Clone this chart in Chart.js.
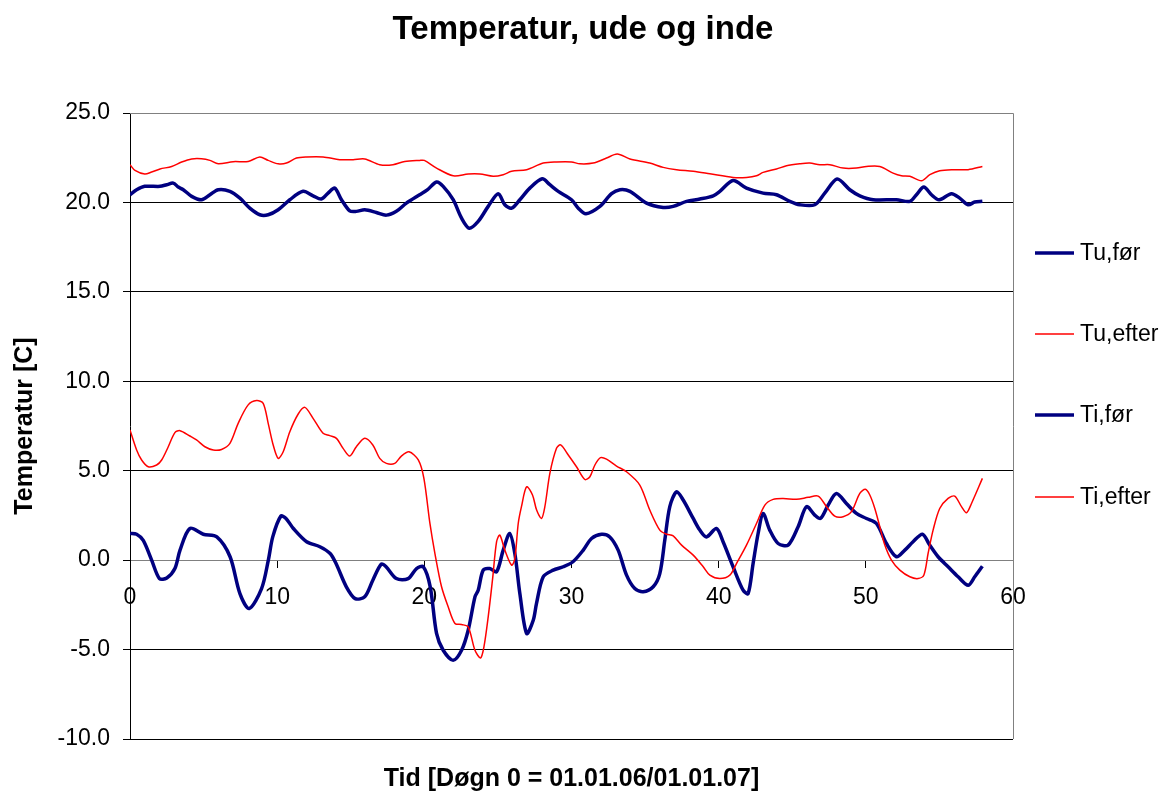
<!DOCTYPE html>
<html>
<head>
<meta charset="utf-8">
<title>Temperatur, ude og inde</title>
<script src="https://cdn.jsdelivr.net/npm/chart.js@4/dist/chart.umd.min.js"></script>
<style>
    html, body { margin: 0; padding: 0; background: #ffffff; }
    #chart { display: block; }
</style>
</head>
<body>
<canvas id="chart" width="1166" height="796"></canvas>
<script>
    "use strict";

    // Series (x = døgn, y = grader C)
    var tuForDays = [0, 0.45, 1.0, 2.04, 2.49, 2.94, 3.28, 3.62, 4.19, 4.86, 5.43, 6.0, 6.79, 7.47, 8.14, 8.82, 9.39, 10.07, 10.86, 11.76, 12.44, 13.0, 13.46, 13.91, 14.37, 14.93, 15.38, 15.95, 16.74, 17.42, 18.1, 18.78, 19.68, 20.2, 20.83, 21.28, 21.96, 22.53, 23.05, 23.66, 24.34, 25.02, 25.47, 25.93, 26.49, 27.17, 28.01, 28.53, 29.1, 30.0, 30.46, 30.98, 31.93, 32.72, 33.29, 33.97, 35.1, 36.23, 36.91, 37.82, 38.72, 39.63, 40.08, 40.98, 41.89, 43.02, 43.93, 44.83, 45.51, 46.53, 47.21, 48.05, 48.91, 49.59, 50.5, 52.08, 52.99, 53.44, 53.94, 54.46, 54.98, 55.82, 56.38, 56.95, 57.4, 57.92];
    var tuForTemps = [20.43, 20.71, 20.9, 20.9, 20.99, 21.08, 20.86, 20.71, 20.34, 20.15, 20.43, 20.71, 20.62, 20.24, 19.68, 19.31, 19.31, 19.59, 20.15, 20.62, 20.37, 20.19, 20.52, 20.8, 20.15, 19.53, 19.5, 19.59, 19.44, 19.29, 19.5, 19.96, 20.43, 20.7, 21.14, 20.9, 20.15, 19.12, 18.56, 18.94, 19.78, 20.49, 19.87, 19.68, 20.15, 20.8, 21.32, 20.99, 20.62, 20.15, 19.68, 19.37, 19.78, 20.49, 20.71, 20.62, 19.96, 19.72, 19.78, 20.06, 20.19, 20.37, 20.62, 21.23, 20.8, 20.52, 20.43, 20.06, 19.87, 19.87, 20.52, 21.31, 20.71, 20.37, 20.15, 20.15, 20.06, 20.43, 20.86, 20.43, 20.15, 20.49, 20.24, 19.87, 20.02, 20.07];

    var tuEfterDays = [0, 0.34, 1.0, 1.47, 2.04, 2.83, 3.51, 4.19, 4.86, 5.43, 6.0, 7.01, 8.03, 8.82, 9.39, 10.07, 10.63, 11.31, 11.99, 13.12, 14.25, 15.16, 15.95, 16.97, 17.87, 18.67, 19.68, 20.0, 20.83, 21.96, 22.98, 23.78, 24.68, 25.36, 25.93, 26.95, 28.08, 28.98, 30.0, 30.57, 31.47, 32.38, 33.11, 33.97, 35.32, 36.23, 37.14, 38.27, 39.4, 40.98, 41.89, 42.57, 43.02, 43.93, 44.61, 45.51, 46.19, 46.87, 47.55, 48.46, 49.36, 50.04, 50.95, 51.85, 52.42, 52.99, 53.78, 54.35, 55.02, 55.93, 56.95, 57.92];
    var tuEfterTemps = [22.11, 21.79, 21.59, 21.7, 21.87, 22.01, 22.26, 22.43, 22.44, 22.35, 22.16, 22.28, 22.29, 22.54, 22.35, 22.16, 22.2, 22.48, 22.54, 22.54, 22.39, 22.39, 22.43, 22.11, 22.11, 22.29, 22.35, 22.35, 21.92, 21.49, 21.59, 21.59, 21.46, 21.55, 21.74, 21.83, 22.2, 22.26, 22.26, 22.16, 22.2, 22.48, 22.71, 22.43, 22.2, 21.96, 21.83, 21.74, 21.6, 21.4, 21.4, 21.49, 21.68, 21.87, 22.05, 22.16, 22.2, 22.11, 22.11, 21.92, 21.92, 22.01, 22.01, 21.64, 21.49, 21.46, 21.21, 21.55, 21.77, 21.83, 21.83, 22.01];

    var tiForDays = [0, 0.45, 0.9, 1.47, 2.0, 2.5, 3.05, 3.4, 4.07, 4.98, 5.9, 6.8, 7.47, 8.1, 8.94, 9.4, 9.7, 10.25, 10.6, 11.1, 12.0, 12.9, 13.6, 14.0, 14.7, 15.3, 15.95, 16.5, 17.08, 17.4, 18.1, 18.9, 19.47, 19.93, 20.4, 20.83, 21.28, 21.96, 22.53, 22.98, 23.44, 23.66, 24.0, 24.45, 24.91, 25.36, 25.8, 26.15, 26.49, 26.95, 27.4, 27.62, 28.08, 28.76, 29.44, 30.1, 30.8, 31.36, 32.04, 32.6, 33.17, 33.74, 34.3, 34.87, 35.55, 36.0, 36.34, 36.68, 37.14, 37.59, 38.27, 38.72, 39.17, 39.85, 40.3, 40.98, 41.66, 42.0, 42.34, 42.68, 43.02, 43.47, 44.04, 44.72, 45.4, 45.97, 46.53, 46.92, 47.44, 48.0, 48.68, 49.36, 50.04, 50.72, 51.4, 52.08, 52.65, 53.21, 53.85, 54.34, 54.91, 55.59, 56.27, 56.95, 57.4, 57.92];
    var tiForTemps = [1.49, 1.45, 1.1, 0, -1.03, -1.0, -0.47, 0.56, 1.77, 1.45, 1.3, 0.19, -1.87, -2.7, -1.59, 0, 1.3, 2.46, 2.33, 1.77, 1.03, 0.75, 0.37, -0.19, -1.49, -2.15, -2.05, -1.12, -0.22, -0.37, -1.03, -1.03, -0.47, -0.37, -1.49, -4.1, -5.04, -5.6, -5.04, -3.92, -2.05, -1.68, -0.56, -0.47, -0.65, 0.56, 1.49, 0.37, -1.87, -4.1, -3.36, -2.43, -0.93, -0.56, -0.37, -0.09, 0.56, 1.21, 1.45, 1.3, 0.56, -0.84, -1.59, -1.77, -1.49, -0.75, 1.12, 2.99, 3.82, 3.36, 2.33, 1.68, 1.3, 1.77, 1.03, -0.37, -1.68, -1.87, -0.19, 1.49, 2.61, 1.68, 0.93, 0.84, 1.87, 2.99, 2.52, 2.33, 3.08, 3.73, 3.17, 2.61, 2.33, 2.05, 0.93, 0.19, 0.56, 1.03, 1.45, 0.84, 0.19, -0.37, -0.93, -1.4, -0.93, -0.34];

    var tiEfterDays = [0, 0.45, 0.79, 1.24, 1.81, 2.15, 2.6, 3.05, 3.4, 4.07, 4.52, 5.09, 5.66, 6.22, 6.79, 7.35, 8.03, 8.6, 9.05, 9.39, 9.73, 10.07, 10.41, 10.86, 11.43, 11.88, 12.44, 13.12, 13.57, 14.03, 14.48, 14.93, 15.38, 15.95, 16.5, 16.97, 17.42, 17.99, 18.44, 18.96, 19.59, 19.97, 20.38, 20.72, 21.17, 21.62, 22.08, 22.53, 22.98, 23.44, 23.82, 24.05, 24.34, 24.64, 24.91, 25.13, 25.47, 25.93, 26.15, 26.38, 26.6, 26.95, 27.35, 27.63, 27.96, 28.19, 28.53, 28.98, 29.26, 29.78, 30.34, 30.91, 31.25, 31.59, 31.97, 32.38, 33.06, 33.74, 34.64, 35.32, 36.0, 36.46, 36.91, 37.48, 38.27, 38.95, 39.4, 40.08, 40.76, 41.21, 41.89, 42.57, 43.14, 43.7, 44.38, 45.29, 46.08, 46.76, 47.33, 47.89, 48.46, 49.02, 49.59, 49.97, 50.27, 50.61, 50.95, 51.29, 51.74, 52.31, 52.99, 53.55, 53.94, 54.23, 54.57, 55.02, 55.59, 56.04, 56.5, 56.84, 57.18, 57.92];
    var tiEfterTemps = [7.28, 6.16, 5.6, 5.22, 5.32, 5.6, 6.34, 7.13, 7.24, 6.94, 6.72, 6.34, 6.16, 6.19, 6.53, 7.65, 8.68, 8.92, 8.77, 7.65, 6.44, 5.69, 6.06, 7.18, 8.17, 8.54, 7.93, 7.09, 6.96, 6.81, 6.25, 5.82, 6.34, 6.81, 6.44, 5.69, 5.41, 5.41, 5.82, 6.06, 5.6, 4.57, 2.05, 0.37, -1.49, -2.61, -3.54, -3.6, -3.73, -5.04, -5.47, -4.85, -3.17, -1.03, 1.03, 1.4, 0.56, -0.28, 0.09, 2.05, 2.99, 4.1, 3.64, 2.8, 2.33, 2.99, 4.85, 6.25, 6.44, 5.88, 5.22, 4.51, 4.66, 5.32, 5.73, 5.65, 5.26, 4.94, 4.2, 2.8, 1.68, 1.45, 1.36, 0.84, 0.28, -0.37, -0.84, -1.03, -0.84, -0.19, 0.84, 2.05, 3.08, 3.4, 3.45, 3.4, 3.51, 3.58, 2.99, 2.46, 2.43, 2.71, 3.73, 3.96, 3.64, 2.89, 1.87, 0.84, 0, -0.56, -0.93, -1.03, -0.84, 0.37, 1.68, 2.89, 3.45, 3.58, 2.99, 2.65, 3.17, 4.57];

    var seriesNames = ['Tu,før', 'Tu,efter', 'Ti,før', 'Ti,efter'];
    var yTicks = [-10, -5, 0, 5, 10, 15, 20, 25];
    var xTicks = [0, 10, 20, 30, 40, 50, 60];

    var NAVY = '#000080';
    var RED = '#ff0000';
    var FONT = "Arial, 'Liberation Sans', sans-serif";

    function toPoints(days, temps) {
        return days.map(function (d, i) {
            return { x: d, y: temps[i] };
        });
    }

    function lineSet(label, days, temps, color, width, order) {
        return {
            label: label,
            data: toPoints(days, temps),
            borderColor: color,
            backgroundColor: color,
            borderWidth: width,
            pointRadius: 0,
            tension: 0.3,
            fill: false,
            order: order
        };
    }

    /**
     * Title, x axis title, plot frame and the Excel style legend on the right.
     */
    var excelDecor = {
        id: 'excelDecor',
        afterDraw: function (chart) {
            var ctx = chart.ctx;
            var area = chart.chartArea;
            ctx.save();

            // grey plot frame, top and right
            ctx.strokeStyle = '#808080';
            ctx.lineWidth = 1;
            ctx.beginPath();
            ctx.moveTo(area.left, area.top + 0.5);
            ctx.lineTo(area.right + 0.5, area.top + 0.5);
            ctx.lineTo(area.right + 0.5, area.bottom);
            ctx.stroke();

            ctx.fillStyle = '#000000';
            ctx.textAlign = 'center';
            ctx.textBaseline = 'middle';
            ctx.font = 'bold 33px ' + FONT;
            ctx.fillText('Temperatur, ude og inde', chart.width / 2, 30);

            ctx.font = 'bold 25px ' + FONT;
            ctx.fillText('Tid [Døgn 0 = 01.01.06/01.01.07]', (area.left + area.right) / 2, 779);

            // legend
            ctx.textAlign = 'left';
            ctx.font = '23px ' + FONT;
            var legendY = [253, 334, 415, 497];
            chart.data.datasets.forEach(function (ds, i) {
                ctx.strokeStyle = ds.borderColor;
                ctx.lineWidth = ds.borderWidth;
                ctx.beginPath();
                ctx.moveTo(1035, legendY[i]);
                ctx.lineTo(1074, legendY[i]);
                ctx.stroke();
                ctx.fillText(ds.label, 1080, legendY[i] + 1);
            });
            ctx.restore();
        }
    };

    new Chart(document.getElementById('chart').getContext('2d'), {
        type: 'line',
        data: {
            datasets: [
                lineSet(seriesNames[0], tuForDays, tuForTemps, NAVY, 3.5, 4),
                lineSet(seriesNames[1], tuEfterDays, tuEfterTemps, RED, 1.5, 3),
                lineSet(seriesNames[2], tiForDays, tiForTemps, NAVY, 3.5, 2),
                lineSet(seriesNames[3], tiEfterDays, tiEfterTemps, RED, 1.5, 1)
            ]
        },
        options: {
            responsive: false,
            devicePixelRatio: 1,
            animation: false,
            layout: {
                padding: { left: 10, right: 153, top: 113, bottom: 57 }
            },
            plugins: {
                legend: { display: false },
                title: { display: false },
                tooltip: { enabled: false }
            },
            scales: {
                x: {
                    type: 'linear',
                    position: { y: 0 },
                    min: xTicks[0],
                    max: xTicks[xTicks.length - 1],
                    afterBuildTicks: function (scale) {
                        scale.ticks = xTicks.map(function (v) { return { value: v }; });
                    },
                    grid: {
                        drawOnChartArea: false,
                        drawTicks: true,
                        tickLength: 7,
                        tickColor: '#000000'
                    },
                    border: { color: '#808080', width: 1 },
                    ticks: {
                        color: '#000000',
                        padding: 17,
                        maxRotation: 0,
                        font: { family: FONT, size: 23 }
                    }
                },
                y: {
                    type: 'linear',
                    min: yTicks[0],
                    max: yTicks[yTicks.length - 1],
                    afterBuildTicks: function (scale) {
                        scale.ticks = yTicks.map(function (v) { return { value: v }; });
                    },
                    afterFit: function (scale) {
                        scale.width = 120;
                    },
                    grid: {
                        color: function (c) {
                            if (c.tick && c.tick.value === 0) {
                                return 'rgba(0,0,0,0)';
                            }
                            if (c.tick && c.tick.value === 25) {
                                return '#808080';
                            }
                            return '#000000';
                        },
                        tickColor: '#000000',
                        tickLength: 7,
                        lineWidth: 1
                    },
                    border: { color: '#000000', width: 1 },
                    ticks: {
                        color: '#000000',
                        padding: 13,
                        font: { family: FONT, size: 23 },
                        callback: function (v) { return Number(v).toFixed(1); }
                    },
                    title: {
                        display: true,
                        text: 'Temperatur [C]',
                        color: '#000000',
                        padding: { top: 0, bottom: 0 },
                        font: { family: FONT, size: 25, weight: 'bold' }
                    }
                }
            }
        },
        plugins: [excelDecor]
    });
</script>
</body>
</html>
